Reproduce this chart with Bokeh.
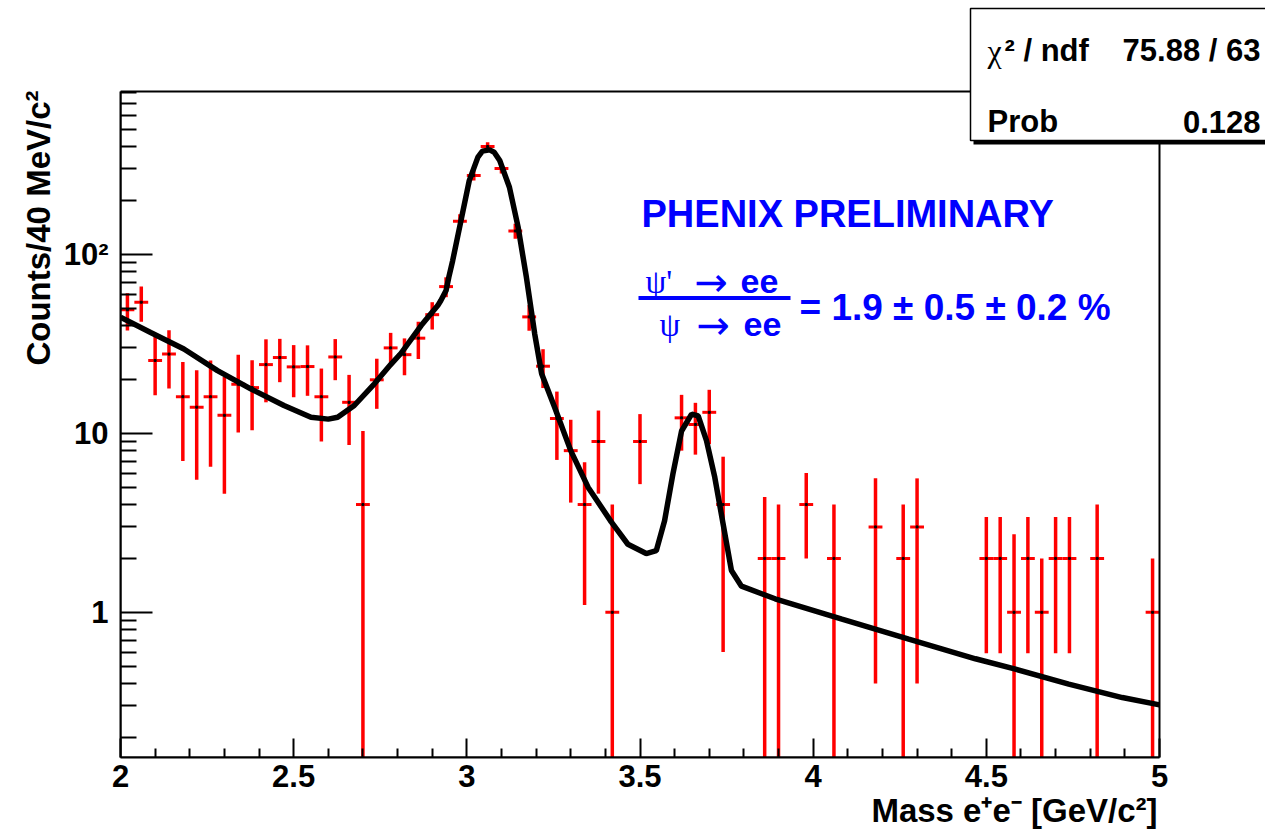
import numpy as np
from bokeh.plotting import figure
from bokeh.models import Range1d, FixedTicker, Label, BoxAnnotation, Title
from bokeh.embed import file_html
from bokeh.resources import INLINE

# ---------------- data ----------------
mass = [2.02, 2.06, 2.10, 2.14, 2.18, 2.22, 2.26, 2.30, 2.34, 2.38,
        2.42, 2.46, 2.50, 2.54, 2.58, 2.62, 2.66, 2.70, 2.74, 2.78,
        2.82, 2.86, 2.90, 2.94, 2.98, 3.02, 3.06, 3.10, 3.14, 3.18,
        3.22, 3.26, 3.30, 3.34, 3.38, 3.42, 3.50, 3.62, 3.66, 3.70,
        3.74, 3.86, 3.90, 3.98, 4.06, 4.18, 4.26, 4.30, 4.50, 4.54,
        4.58, 4.62, 4.66, 4.70, 4.74, 4.82, 4.98]
counts = [49, 54, 25.5, 27.7, 16, 14, 16, 12.6, 18.8, 18,
          24.2, 26.5, 23.5, 23.6, 16, 26.7, 14.9, 4, 19.9, 30,
          27.5, 34, 46, 66, 153, 276, 400, 302, 135, 44.7,
          23.7, 12.1, 8, 4, 9, 1, 9, 12.2, 11.2, 13.1,
          4, 2, 2, 4, 2, 3, 2, 3, 2, 2,
          1, 2, 1, 2, 2, 2, 1]
errors = [11.5, 12, 9.2, 9.9, 9, 8.5, 9.5, 8, 8.7, 7.6,
          9.3, 7.2, 7.6, 7.4, 7, 6.9, 6.3, 6.3, 6.2, 6.4,
          6.4, 8, 8, 8.4, 14.5, 18, 23, 19, 13, 7.3,
          5.8, 5, 3.9, 2.9, 4.4, 3, 3.8, 4.2, 3.6, 4.4,
          3.4, 2.4, 2, 2, 2, 2.6, 2, 2.6, 1.41, 1.41,
          1.73, 1.41, 1, 1.41, 1.41, 2, 1]
bin_half_width = 0.02

fit_mass = [2.00, 2.087, 2.183, 2.28, 2.376, 2.472, 2.55, 2.60, 2.627, 2.675,
            2.733, 2.78, 2.81, 2.868, 2.916, 2.925, 2.94, 2.948, 2.959, 2.983,
            3.007, 3.032, 3.045, 3.066, 3.079, 3.095, 3.123, 3.148, 3.172, 3.196,
            3.216, 3.254, 3.30, 3.35, 3.417, 3.465, 3.518, 3.547, 3.571, 3.595,
            3.62, 3.649, 3.668, 3.692, 3.716, 3.74, 3.764, 3.793, 3.89, 4.083,
            4.276, 4.4685, 4.584, 4.738, 4.8925, 5.0]
fit_counts = [44.5, 36.6, 29.6, 22.4, 17.7, 14.3, 12.3, 12.0, 12.3, 14.3,
              18.9, 24.2, 28.0, 40.0, 51.7, 55.2, 62.7, 74.5, 92.0, 154,
              258, 349, 377, 383, 372, 334, 237, 142, 74.4, 35.9,
              21.5, 13.9, 8.0, 5.0, 3.2, 2.40, 2.13, 2.21, 3.25, 5.92,
              10.3, 12.8, 12.5, 9.09, 5.67, 3.11, 1.71, 1.40, 1.19, 0.916,
              0.708, 0.550, 0.481, 0.397, 0.334, 0.304]

x_ticks = [2.0, 2.5, 3.0, 3.5, 4.0, 4.5, 5.0]
x_tick_labels = ["2", "2.5", "3", "3.5", "4", "4.5", "5"]
x_minor_ticks = [2.1, 2.2, 2.3, 2.4, 2.6, 2.7, 2.8, 2.9, 3.1, 3.2, 3.3, 3.4,
                 3.6, 3.7, 3.8, 3.9, 4.1, 4.2, 4.3, 4.4, 4.6, 4.7, 4.8, 4.9]
y_ticks = [1, 10, 100]
y_tick_labels = ["1", "10", "10²"]
y_minor_ticks = [0.2, 0.3, 0.4, 0.5, 0.6, 0.7, 0.8, 0.9,
                 2, 3, 4, 5, 6, 7, 8, 9,
                 20, 30, 40, 50, 60, 70, 80, 90,
                 200, 300, 400, 500, 600, 700, 800]

# ---------------- layout (page pixels -> data coordinates) ------------
W, H = 1265, 838
FRAME_LEFT, FRAME_BOTTOM = 120, 757        # data frame of the histogram
DATA_RIGHT_PX, DATA_TOP_PX = 1159, 91
PX_PER_GEV = (DATA_RIGHT_PX - FRAME_LEFT) / 3.0
Y1_PX, PX_PER_DEC = 611.8, 179.0


def sx(px):
    return 2.0 + (px - FRAME_LEFT) / PX_PER_GEV


def sy(py):
    return 10 ** ((Y1_PX - py) / PX_PER_DEC)


SANS = "Liberation Sans"
SERIF = "Liberation Serif"

p = figure(width=W, height=H, title=None,
           y_axis_type="log",
           x_range=Range1d(2.0, sx(W)), y_range=Range1d(sy(FRAME_BOTTOM), sy(0)),
           output_backend="svg", toolbar_location=None,
           min_border_left=FRAME_LEFT, min_border_right=0,
           min_border_top=0, min_border_bottom=H - FRAME_BOTTOM)

p.background_fill_color = "white"
p.border_fill_color = "white"
p.grid.visible = False
p.outline_line_color = None

# axes
p.xaxis.ticker = FixedTicker(ticks=x_ticks, minor_ticks=x_minor_ticks)
p.xaxis.major_label_overrides = dict(zip(x_ticks, x_tick_labels))
p.xaxis.bounds = (2.0, 5.0)
p.yaxis.ticker = FixedTicker(ticks=y_ticks, minor_ticks=y_minor_ticks)
p.yaxis.major_label_overrides = dict(zip(y_ticks, y_tick_labels))
p.yaxis.bounds = (sy(FRAME_BOTTOM), sy(DATA_TOP_PX))

for ax in (p.xaxis[0], p.yaxis[0]):
    ax.axis_line_width = 2
    ax.axis_line_color = "black"
    ax.major_tick_line_width = 2
    ax.minor_tick_line_width = 2
    ax.major_tick_line_color = "black"
    ax.minor_tick_line_color = "black"
    ax.major_tick_out = 0
    ax.minor_tick_out = 0
    ax.major_label_text_font = SANS
    ax.major_label_text_font_style = "bold"
    ax.major_label_text_font_size = "31px"
    ax.major_label_text_color = "black"

p.xaxis.major_tick_in = 19
p.xaxis.minor_tick_in = 9
p.xaxis.major_label_standoff = 7
p.yaxis.major_tick_in = 32
p.yaxis.minor_tick_in = 16
p.yaxis.major_label_standoff = 12

# axis titles, aligned to the end of each axis (ROOT style)
p.add_layout(Title(text="Mass e⁺e⁻ [GeV/c²]", align="right",
                   offset=W - 1157, text_font=SANS, text_font_style="bold",
                   text_font_size="33px", text_color="black", standoff=0),
             "below")
p.add_layout(Title(text="Counts/40 MeV/c²", align="right", offset=90,
                   text_font=SANS, text_font_style="bold",
                   text_font_size="33px", text_color="black", standoff=7),
             "left")

# frame of the histogram
p.add_layout(BoxAnnotation(left=2.0, right=5.0, bottom=sy(FRAME_BOTTOM),
                           top=sy(DATA_TOP_PX), fill_alpha=0,
                           line_color="black", line_width=2, line_alpha=1))

# data: error bars
m = np.array(mass)
c = np.array(counts)
e = np.array(errors)
low = np.where(c - e > 0, c - e, 1e-3)
high = c + e

p.segment(x0=m, y0=low, x1=m, y1=high, line_color="#ff0000", line_width=3.5)
p.segment(x0=m - bin_half_width, y0=c, x1=m + bin_half_width, y1=c,
          line_color="#ff0000", line_width=3)
p.scatter(m, c, marker="square", size=2, color="black")

# fit curve
p.line(fit_mass, fit_counts, line_color="black", line_width=5.5)

# ---------------- texts ----------------
blue = "#0000ff"


def add_label(text, px, py, size, font=SANS, style="bold", color="black",
              align="left"):
    p.add_layout(Label(x=sx(px), y=sy(py), text=text, text_font=font,
                       text_font_style=style, text_font_size=f"{size}px",
                       text_color=color, text_align=align,
                       text_baseline="alphabetic"))


add_label("PHENIX PRELIMINARY", 641, 213, 38, color=blue)
add_label("ψ'", 645, 281, 33, font=SERIF, style="normal", color=blue)
add_label("→", 694, 281, 40, font="DejaVu Sans", style="normal", color=blue)
add_label("ee", 740, 281, 34, color=blue)
add_label("ψ", 659, 324, 33, font=SERIF, style="normal", color=blue)
add_label("→", 696, 324, 40, font="DejaVu Sans", style="normal", color=blue)
add_label("ee", 743, 324, 34, color=blue)
p.add_layout(BoxAnnotation(left=sx(638), right=sx(790), top=sy(295.5),
                           bottom=sy(299.5), fill_color=blue, fill_alpha=1,
                           line_color=None))
add_label("= 1.9 ± 0.5 ± 0.2 %", 799, 307, 37, color=blue)

# stats box
p.add_layout(BoxAnnotation(left=sx(973), right=sx(1400), top=sy(11),
                           bottom=sy(144), fill_color="black", fill_alpha=1,
                           line_color=None))
p.add_layout(BoxAnnotation(left=sx(970), right=sx(1400), top=sy(8),
                           bottom=sy(140), fill_color="white", fill_alpha=1,
                           line_color="black", line_width=1.5, line_alpha=1))
add_label("χ", 987, 50, 32, font=SERIF, style="normal")
add_label("² / ndf", 1004, 50, 31)
add_label("75.88 / 63", 1260, 50, 31, align="right")
add_label("Prob", 987, 121, 31)
add_label("0.128", 1260, 121, 31, align="right")

open("out.html", "w").write(file_html(p, INLINE))
